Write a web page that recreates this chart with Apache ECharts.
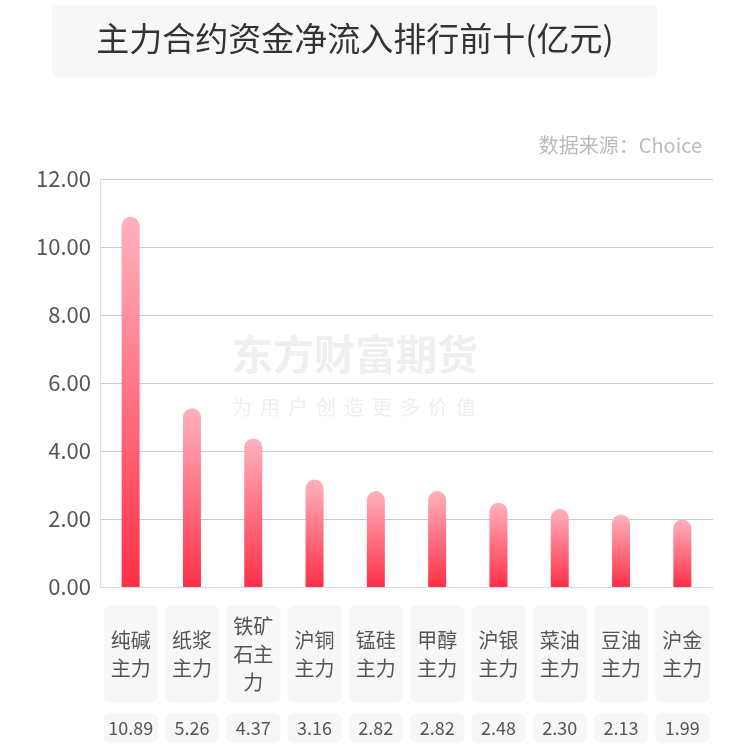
<!DOCTYPE html>
<html>
<head>
<meta charset="utf-8">
<script src="https://cdn.jsdelivr.net/npm/echarts@6/dist/echarts.min.js"></script>
<style>html,body{margin:0;padding:0;background:#fff;}#c{width:756px;height:748px;}</style>
</head>
<body>
<div id="c"></div>
<script>
var titleText = '主力合约资金净流入排行前十(亿元)';
var sourceText = '数据来源：Choice';
var categories = ['纯碱主力', '纸浆主力', '铁矿石主力', '沪铜主力', '锰硅主力', '甲醇主力', '沪银主力', '菜油主力', '豆油主力', '沪金主力'];
var values = [10.89, 5.26, 4.37, 3.16, 2.82, 2.82, 2.48, 2.30, 2.13, 1.99];
var yTicks = [0, 2, 4, 6, 8, 10, 12];
var watermark1 = '东方财富期货';
var watermark2 = '为用户创造更多价值';

var FONT = '"Noto Sans CJK SC", "Noto Sans", sans-serif';
var chart = echarts.init(document.getElementById('c'), null, {renderer: 'canvas'});

function splitTwo(s) {
  var out = [];
  for (var i = 0; i < s.length; i += 2) out.push(s.substr(i, 2));
  return out.join('\n');
}

var wm2 = [];
for (var i = 0; i < watermark2.length; i++) {
  wm2.push({
    type: 'text', left: 232 + i * 28, top: 397, z: -10, silent: true,
    style: {text: watermark2[i], fill: '#efefef', font: '20px ' + FONT}
  });
}

chart.setOption({
  animation: false,
  backgroundColor: '#fff',
  graphic: [
    {type: 'rect', left: 52, top: 5, z: -20, shape: {width: 605, height: 72, r: 6}, style: {fill: '#f7f7f7'}},
    {type: 'text', x: 355, y: 22, z: -19, style: {text: titleText, fill: '#333', font: '33px ' + FONT, textAlign: 'center'}},
    {type: 'text', right: 54, top: 135, style: {text: sourceText, fill: '#bbb', font: '20px ' + FONT}},
    {type: 'text', left: 232, top: 334, z: -10, silent: true, style: {text: watermark1, fill: '#efefef', font: 'bold 41px ' + FONT}}
  ].concat(wm2),
  grid: {left: 100, right: 43, top: 179, bottom: 161, containLabel: false},
  xAxis: [{
    type: 'category',
    data: categories,
    axisLine: {show: true, lineStyle: {color: '#ddd'}},
    axisTick: {show: false},
    axisLabel: {
      interval: 0,
      formatter: function (v) { return splitTwo(v); },
      color: '#555',
      fontSize: 20,
      fontFamily: FONT,
      lineHeight: 28,
      width: 54,
      height: 97,
      align: 'center',
      verticalAlign: 'middle',
      backgroundColor: '#f7f7f7',
      borderRadius: 6,
      margin: 67
    }
  }, {
    type: 'category',
    position: 'bottom',
    data: categories,
    axisLine: {show: false},
    axisTick: {show: false},
    axisLabel: {
      interval: 0,
      formatter: function (v, idx) { return values[idx].toFixed(2); },
      color: '#555',
      fontSize: 18,
      fontFamily: FONT,
      width: 54,
      height: 30,
      lineHeight: 30,
      align: 'center',
      verticalAlign: 'middle',
      backgroundColor: '#f7f7f7',
      borderRadius: 6,
      margin: 141
    }
  }],
  yAxis: {
    type: 'value',
    min: yTicks[0],
    max: yTicks[yTicks.length - 1],
    interval: 2,
    axisLine: {show: true, lineStyle: {color: '#ddd'}},
    axisTick: {show: false},
    splitLine: {lineStyle: {color: '#ccc'}},
    axisLabel: {
      color: '#555', fontSize: 22, fontFamily: FONT, margin: 9,
      formatter: function (v) { return v.toFixed(2); }
    }
  },
  series: [{
    type: 'bar',
    data: values,
    barWidth: 18,
    itemStyle: {
      borderRadius: [9, 9, 0, 0],
      color: new echarts.graphic.LinearGradient(0, 0, 0, 1, [
        {offset: 0, color: '#ffb2bd'},
        {offset: 1, color: '#ff2f47'}
      ])
    }
  }]
});
</script>
</body>
</html>
